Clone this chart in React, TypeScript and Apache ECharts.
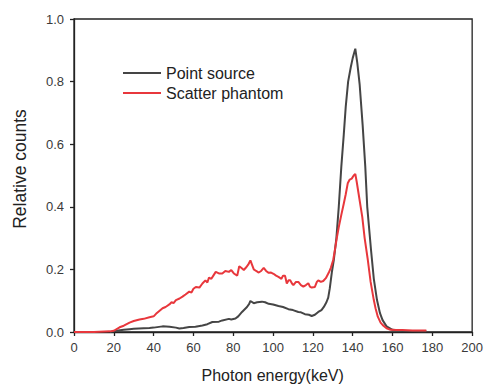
import React, { useEffect, useRef } from "react";
import * as echarts from "echarts";

const xTicks = { min: 0, max: 200, interval: 20 };
const yTicks = { min: 0, max: 1, interval: 0.2 };

const pointSource: [number, number][] = [
  [18, 0], [20, 0.002], [21.3, 0.004], [25, 0.007], [27.9, 0.009], [30, 0.01], [35, 0.012],
  [37.9, 0.013], [40, 0.014], [44.5, 0.018], [48, 0.017], [51.2, 0.014], [52.9, 0.011],
  [55, 0.013], [57.9, 0.016], [61, 0.017], [64.5, 0.021], [67, 0.025], [69.5, 0.032],
  [72.8, 0.033], [74.5, 0.037], [77.8, 0.042], [79, 0.04], [81.1, 0.043], [82.5, 0.05],
  [84.4, 0.064], [86.9, 0.08], [88, 0.09], [88.6, 0.099], [90.3, 0.092], [92, 0.095],
  [94.4, 0.097], [96, 0.095], [97.8, 0.09], [100, 0.088], [102.7, 0.083], [105, 0.08],
  [107.7, 0.073], [110, 0.07], [112.7, 0.064], [114, 0.063], [116, 0.057], [118, 0.055],
  [119.4, 0.051], [121, 0.055], [122.7, 0.064], [124.3, 0.07], [125.5, 0.08], [126.8, 0.095],
  [127.7, 0.11], [128.5, 0.14], [129.5, 0.19], [130.5, 0.23], [131.8, 0.3], [133, 0.4],
  [134.3, 0.53], [135.5, 0.63], [136.5, 0.72], [137.7, 0.8], [139, 0.845], [140, 0.875],
  [141.3, 0.905], [142.3, 0.86], [143.5, 0.79], [145, 0.66], [146.3, 0.53], [147.3, 0.4],
  [149.2, 0.262], [150.6, 0.17], [152.2, 0.102], [153.7, 0.06], [155, 0.038], [157, 0.018],
  [160, 0.007], [165, 0.004], [170, 0.003], [175, 0.002], [177, 0.002],
];

const scatterPhantom: [number, number][] = [
  [0, 0], [10, 0], [18, 0.002], [20, 0.004], [22.9, 0.015], [25, 0.02], [27.9, 0.03],
  [30, 0.035], [32.9, 0.04], [35, 0.042], [37.9, 0.047], [40, 0.05], [41.2, 0.058],
  [43, 0.068], [44.5, 0.076], [46, 0.08], [47.9, 0.088], [49, 0.095], [50, 0.092],
  [51.2, 0.102], [53, 0.107], [54.5, 0.113], [56, 0.12], [57.9, 0.129], [59, 0.126],
  [60, 0.138], [61.2, 0.144], [63, 0.142], [64.5, 0.155], [66, 0.165], [67, 0.158],
  [67.8, 0.174], [69, 0.17], [70, 0.18], [71.2, 0.192], [72.8, 0.187], [74.5, 0.187],
  [76, 0.195], [77.8, 0.192], [79, 0.198], [80.3, 0.187], [82, 0.18], [83, 0.21],
  [84, 0.205], [85.3, 0.198], [86.4, 0.206], [87.5, 0.215], [88.6, 0.229], [90.3, 0.2],
  [91.5, 0.195], [92.8, 0.19], [94, 0.195], [95.3, 0.205], [96.5, 0.195], [97.8, 0.189],
  [99, 0.19], [100.2, 0.186], [101.5, 0.18], [102.7, 0.176], [104.2, 0.17], [105, 0.18],
  [106, 0.18], [106.9, 0.155], [107.8, 0.165], [108.6, 0.165], [109.5, 0.155], [110.2, 0.15],
  [111.5, 0.16], [112.7, 0.16], [114, 0.15], [115.2, 0.145], [116.5, 0.15], [117.7, 0.156],
  [118.5, 0.145], [119.4, 0.142], [121, 0.144], [122, 0.16], [122.7, 0.165], [124, 0.16],
  [125.2, 0.163], [126.5, 0.172], [128, 0.19], [129, 0.205], [130.2, 0.23], [131, 0.26],
  [132, 0.3], [133, 0.335], [134.3, 0.375], [135.5, 0.41], [136.5, 0.44], [137.5, 0.475],
  [138.5, 0.487], [139.5, 0.49], [140.5, 0.5], [141.3, 0.505], [142, 0.48], [143, 0.44],
  [144, 0.4], [144.8, 0.368], [146, 0.3], [147.6, 0.23], [149, 0.16], [150.6, 0.102],
  [151.5, 0.075], [152.6, 0.049], [154, 0.03], [155.1, 0.022], [157, 0.012], [159, 0.007],
  [162, 0.006], [165, 0.006], [170, 0.005], [175, 0.005], [177, 0.005],
];

const seriesNames = ["Point source", "Scatter phantom"];
const xTitle = "Photon energy(keV)";
const yTitle = "Relative counts";

const FONT = "'Liberation Sans', Arial, sans-serif";

export default function App() {
  const ref = useRef<HTMLDivElement>(null);
  useEffect(() => {
    if (!ref.current) return;
    const chart = echarts.init(ref.current, undefined, { renderer: "svg" });
    const axisCommon = {
      axisLine: { show: true, lineStyle: { color: "#222", width: 1.3 } },
      axisTick: { show: true, inside: false, length: 4, lineStyle: { color: "#222", width: 1.3 } },
      splitLine: { show: false },
    };
    chart.setOption({
      animation: false,
      backgroundColor: "#fff",
      grid: {
        left: 74, right: 11, top: 19, bottom: 53,
        show: true, borderColor: "#222", borderWidth: 1.3, backgroundColor: "transparent",
      },
      legend: {
        data: seriesNames,
        orient: "vertical",
        left: 118,
        top: 60,
        itemWidth: 38,
        itemHeight: 2,
        itemGap: 4,
        icon: "rect",
        textStyle: { fontFamily: FONT, fontSize: 16, color: "#222", padding: [0, 0, 0, 0] },
      },
      xAxis: {
        type: "value",
        ...xTicks,
        ...axisCommon,
        axisLabel: { margin: 9, fontFamily: FONT, fontSize: 13, color: "#3a3a3a" },
      },
      yAxis: {
        type: "value",
        ...yTicks,
        ...axisCommon,
        axisLabel: {
          margin: 10, fontFamily: FONT, fontSize: 13, color: "#3a3a3a",
          formatter: (v: number) => v.toFixed(1),
        },
      },
      graphic: [
        {
          type: "text", x: 272.7, y: 375,
          style: { text: xTitle, font: `16px ${FONT}`, fill: "#222", align: "center", verticalAlign: "middle" },
        },
        {
          type: "text", x: 20, y: 169, rotation: Math.PI / 2,
          style: { text: yTitle, font: `17.5px ${FONT}`, fill: "#222", align: "center", verticalAlign: "middle" },
        },
      ],
      series: [
        {
          name: seriesNames[0], type: "line", data: pointSource, showSymbol: false, symbol: "none",
          lineStyle: { color: "#454545", width: 2 }, itemStyle: { color: "#454545" },
        },
        {
          name: seriesNames[1], type: "line", data: scatterPhantom, showSymbol: false, symbol: "none",
          lineStyle: { color: "#e8373c", width: 2 }, itemStyle: { color: "#e8373c" },
        },
      ],
    });
    return () => chart.dispose();
  }, []);
  return <div ref={ref} style={{ width: 486, height: 385, position: "absolute", left: 0, top: 0 }} />;
}
